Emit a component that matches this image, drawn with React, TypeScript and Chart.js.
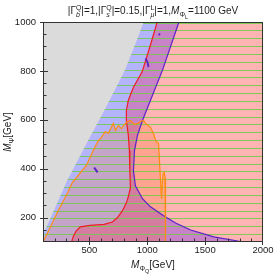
import React, { useEffect, useRef } from 'react';
import { Chart, registerables } from 'chart.js';

Chart.register(...registerables);

const X_MIN = 100;
const X_MAX = 2000;
const Y_MIN = 100;
const Y_MAX = 1000;
const X_TICKS = [500, 1000, 1500, 2000];
const Y_TICKS = [200, 400, 600, 800, 1000];
const X_MINOR = [200, 300, 400, 600, 700, 800, 900, 1100, 1200, 1300, 1400, 1600, 1700, 1800, 1900];
const Y_MINOR = [150, 250, 300, 350, 450, 500, 550, 650, 700, 750, 850, 900, 950];

// boundary of the non-excluded (non-gray) region
const EDGE_X = [970, 911, 807, 629, 490, 308, 100, 73];
const EDGE_Y = [1000, 926, 803, 638, 515, 351, 129, 100];

// red contour (pink region lies to its right)
const RED_X = [1086, 1028, 956, 881, 837, 820, 820, 837, 846, 850, 855, 837, 820, 785, 742, 699, 629, 508, 421, 386, 360, 347];
const RED_Y = [1000, 906, 796, 733, 680, 638, 597, 536, 474, 392, 322, 285, 260, 227, 199, 182, 172, 168, 162, 145, 121, 100];

// purple contour (blue region lies to its left)
const PURPLE_X = [1274, 1132, 959, 916, 890, 881, 898, 959, 1028, 1141, 1245, 1375, 1575, 1783, 1853];
const PURPLE_Y = [1000, 803, 597, 536, 474, 392, 330, 277, 244, 207, 178, 149, 121, 104, 100];

// orange exclusion contour
const ORANGE_X = [100, 135, 230, 308, 352, 421, 473, 534, 577, 603, 638, 664, 690, 707, 725, 751, 777, 803, 829, 855, 890, 916, 942, 968, 994, 1028, 1054, 1072, 1098, 1106, 1115, 1124, 1132, 1137, 1146, 1154, 1158];
const ORANGE_Y = [100, 133, 227, 297, 342, 383, 412, 474, 515, 527, 552, 544, 569, 585, 556, 577, 564, 581, 593, 597, 581, 585, 593, 597, 581, 569, 544, 515, 503, 433, 351, 277, 351, 379, 386, 363, 100];

// small isolated islands of the purple contour
const ISLAND_A_X = [542, 571];
const ISLAND_A_Y = [405, 385];
const ISLAND_B_X = [1100, 1110];
const ISLAND_B_Y = [952, 947];
const ISLAND_C_X = [985, 1003, 1011];
const ISLAND_C_Y = [851, 835, 816];

type Piece = { t: string; it?: boolean; lvl?: number; stack?: boolean };

const TITLE: Piece[] = [
  { t: '|Γ' }, { t: 'b', it: true, lvl: 1, stack: true }, { t: 'Q', lvl: -1 },
  { t: '|=1,|Γ' }, { t: 's', it: true, lvl: 1, stack: true }, { t: 'Q', lvl: -1 },
  { t: '|=0.15,|Γ' }, { t: 'μ', it: true, lvl: 1, stack: true }, { t: 'L', lvl: -1 },
  { t: '|=1,' }, { t: 'M', it: true }, { t: 'Φ', lvl: 1 }, { t: 'L', lvl: 2 },
  { t: '=1100 GeV' },
];
const X_LABEL: Piece[] = [{ t: 'M', it: true }, { t: 'Φ', lvl: 1 }, { t: 'Q', lvl: 2 }, { t: '[GeV]' }];
const Y_LABEL: Piece[] = [{ t: 'M', it: true }, { t: 'Ψ', lvl: 1 }, { t: '[GeV]' }];

const FONT = '"Liberation Sans", Arial, Helvetica, sans-serif';
const TEXT = '#1c1c1c';
const GRAY = '#dbdbdb';
const BLUE = '#b4b4fc';
const MAGENTA = '#c882c8';
const PINK = '#ffb4b4';
const ORANGE_FILL = 'rgba(255,110,20,0.22)';
const HATCH = 'rgba(110,205,70,0.85)';
const RED = '#ee1d24';
const PURPLE = '#5a22c8';
const ORANGE = '#ff8c10';
const HATCH_ROWS = [7, 15, 23, 30, 38, 46];
const HATCH_PERIOD = 47;

const pts = (xs: number[], ys: number[]) => xs.map((x, i) => ({ x, y: ys[i] }));
const rightOf = (xs: number[], ys: number[]) => [...pts(xs, ys), { x: X_MAX, y: Y_MIN }, { x: X_MAX, y: Y_MAX }];

function fontFor(p: Piece, size: number) {
  const f = !p.lvl ? 1 : p.lvl === 2 ? 0.55 : 0.7;
  return `${p.it ? 'italic ' : ''}${(size * f).toFixed(2)}px ${FONT}`;
}
function dyFor(p: Piece, size: number) {
  if (p.lvl === 1) return 0.3 * size;
  if (p.lvl === -1) return -0.4 * size;
  if (p.lvl === 2) return 0.5 * size;
  return 0;
}
function measure(ctx: CanvasRenderingContext2D, pieces: Piece[], size: number) {
  let x = 0;
  let pending = 0;
  for (const p of pieces) {
    ctx.font = fontFor(p, size);
    const w = ctx.measureText(p.t).width;
    if (p.stack) pending = w;
    else { x += Math.max(w, pending); pending = 0; }
  }
  return x;
}
function drawPieces(ctx: CanvasRenderingContext2D, pieces: Piece[], x0: number, y0: number, size: number) {
  let x = x0;
  let pending = 0;
  for (const p of pieces) {
    ctx.font = fontFor(p, size);
    const w = ctx.measureText(p.t).width;
    ctx.fillText(p.t, x, y0 + dyFor(p, size));
    if (p.stack) pending = w;
    else { x += Math.max(w, pending); pending = 0; }
  }
}

const framePlugin = {
  id: 'frameAndBg',
  beforeDatasetsDraw(chart: any) {
    const { ctx, chartArea: a } = chart;
    ctx.save();
    ctx.fillStyle = GRAY;
    ctx.fillRect(a.left, a.top, a.right - a.left, a.bottom - a.top);
    ctx.restore();
  },
  afterDatasetsDraw(chart: any) {
    const { ctx, chartArea: a, scales } = chart;
    ctx.save();
    ctx.strokeStyle = '#333';
    ctx.lineWidth = 1;
    ctx.strokeRect(a.left + 0.5, a.top + 0.5, a.right - a.left - 1, a.bottom - a.top - 1);
    ctx.beginPath();
    for (const v of X_MINOR) {
      const px = Math.round(scales.x.getPixelForValue(v)) + 0.5;
      ctx.moveTo(px, a.bottom - 1);
      ctx.lineTo(px, a.bottom - 3.5);
    }
    for (const v of X_TICKS) {
      const px = Math.min(Math.round(scales.x.getPixelForValue(v)), a.right - 1) + 0.5;
      ctx.moveTo(px, a.bottom + 3);
      ctx.lineTo(px, a.bottom - 5);
    }
    for (const v of Y_MINOR) {
      const py = Math.round(scales.y.getPixelForValue(v)) + 0.5;
      ctx.moveTo(a.left + 1, py);
      ctx.lineTo(a.left + 3.5, py);
    }
    for (const v of Y_TICKS) {
      const py = Math.max(Math.round(scales.y.getPixelForValue(v)), a.top) + 0.5;
      ctx.moveTo(a.left - 3, py);
      ctx.lineTo(a.left + 5, py);
    }
    ctx.stroke();
    ctx.restore();
  },
};

const textPlugin = {
  id: 'richTexts',
  afterDraw(chart: any) {
    const { ctx, chartArea: a } = chart;
    ctx.save();
    ctx.fillStyle = TEXT;
    ctx.textAlign = 'left';
    ctx.textBaseline = 'alphabetic';
    const cx = (a.left + a.right) / 2;
    const tw = measure(ctx, TITLE, 10);
    drawPieces(ctx, TITLE, cx - tw / 2, 13.5, 10);
    const xw = measure(ctx, X_LABEL, 10);
    drawPieces(ctx, X_LABEL, cx - xw / 2, 268, 10);
    const cy = (a.top + a.bottom) / 2;
    const yw = measure(ctx, Y_LABEL, 10);
    ctx.translate(10.5, cy);
    ctx.rotate(-Math.PI / 2);
    drawPieces(ctx, Y_LABEL, -yw / 2, 0, 10);
    ctx.restore();
  },
};

export default function App() {
  const ref = useRef<HTMLCanvasElement | null>(null);

  useEffect(() => {
    const canvas = ref.current;
    if (!canvas) return;
    Chart.defaults.font.family = FONT;

    const pc = document.createElement('canvas');
    pc.width = 8;
    pc.height = HATCH_PERIOD;
    const pctx = pc.getContext('2d')!;
    pctx.fillStyle = HATCH;
    for (const r of HATCH_ROWS) pctx.fillRect(0, r, 8, 1);
    const pattern = pctx.createPattern(pc, 'repeat');

    const none = 'rgba(0,0,0,0)';
    const area = (data: any[], color: any, order: number) => ({
      data, fill: 'shape', backgroundColor: color, borderColor: none, borderWidth: 0,
      pointRadius: 0, order,
    });
    const curve = (data: any[], color: string, width: number, order: number) => ({
      data, fill: false, borderColor: color, borderWidth: width, backgroundColor: color,
      pointRadius: 0, order,
    });

    const chart = new Chart(canvas, {
      type: 'line',
      data: {
        datasets: [
          curve(pts(ISLAND_A_X, ISLAND_A_Y), PURPLE, 2, 0),
          curve(pts(ISLAND_B_X, ISLAND_B_Y), PURPLE, 2, 0),
          curve(pts(ISLAND_C_X, ISLAND_C_Y), PURPLE, 1.8, 0),
          curve(pts(ORANGE_X, ORANGE_Y), ORANGE, 1.2, 1),
          curve(pts(PURPLE_X, PURPLE_Y), PURPLE, 1.2, 2),
          curve(pts(RED_X, RED_Y), RED, 1.2, 3),
          area(rightOf(EDGE_X, EDGE_Y), pattern, 4),
          area(pts(ORANGE_X, ORANGE_Y), ORANGE_FILL, 5),
          area(rightOf(PURPLE_X, PURPLE_Y), PINK, 6),
          area(rightOf(RED_X, RED_Y), MAGENTA, 7),
          area(rightOf(EDGE_X, EDGE_Y), BLUE, 8),
        ] as any,
      },
      options: {
        responsive: false,
        animation: false,
        events: [],
        layout: { padding: { left: 0, right: 11, top: 22, bottom: 0 } },
        plugins: { legend: { display: false }, tooltip: { enabled: false }, title: { display: false } },
        elements: { line: { tension: 0 } },
        scales: {
          x: {
            type: 'linear',
            min: X_MIN,
            max: X_MAX,
            grid: { display: false, drawTicks: false },
            border: { display: false },
            ticks: {
              padding: 3,
              color: TEXT,
              font: { size: 9.5, family: FONT },
              maxRotation: 0,
              autoSkip: false,
              callback: (v: any) => String(v),
            },
            afterBuildTicks: (s: any) => { s.ticks = X_TICKS.map((v) => ({ value: v })); },
            afterFit: (s: any) => { s.height = 34; s.paddingLeft = 0; s.paddingRight = 0; },
          },
          y: {
            type: 'linear',
            min: Y_MIN,
            max: Y_MAX,
            grid: { display: false, drawTicks: false },
            border: { display: false },
            ticks: {
              padding: 7,
              color: TEXT,
              font: { size: 9.5, family: FONT },
              autoSkip: false,
              callback: (v: any) => String(v),
            },
            afterBuildTicks: (s: any) => { s.ticks = Y_TICKS.map((v) => ({ value: v })); },
            afterFit: (s: any) => { s.width = 43; s.paddingTop = 0; s.paddingBottom = 0; },
          },
        },
      } as any,
      plugins: [framePlugin, textPlugin],
    });
    return () => chart.destroy();
  }, []);

  return (
    <div style={{ position: 'absolute', left: 0, top: 0, width: 274, height: 276, background: '#fff' }}>
      <canvas ref={ref} width={274} height={276} style={{ display: 'block' }} />
    </div>
  );
}
